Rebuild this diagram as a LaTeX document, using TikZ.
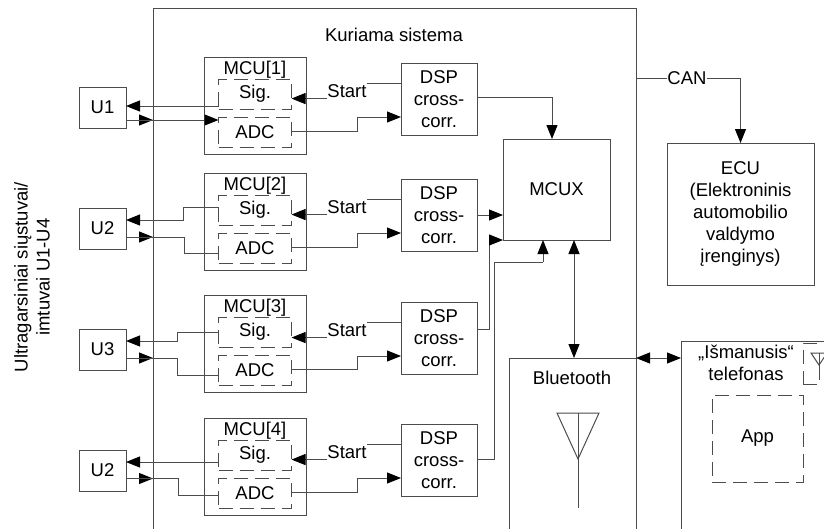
\documentclass[tikz,border=0pt]{standalone}
\usepackage{fontspec}
\setmainfont{Liberation Sans}
\usetikzlibrary{arrows.meta,positioning}

\begin{document}
\begin{tikzpicture}[
x=1pt, y=-1pt,
line width=1pt,
draw=black!70,
font=\fontsize{18.5}{22}\selectfont,
box/.style={draw=black!70, outer sep=0pt, inner sep=0pt, align=center},
dbox/.style={box, dash pattern=on 14pt off 7pt},
ubox/.style={box, minimum width=47pt, minimum height=41pt},
mcubox/.style={box, minimum width=102pt, minimum height=97pt},
inbox/.style={dbox, minimum width=73pt, minimum height=30pt},
dspbox/.style={box, minimum width=76pt, minimum height=72pt},
tag/.style={inner sep=0pt, outer sep=0pt},
starttag/.style={tag, inner ysep=1pt},
>={Triangle[length=14pt,width=11pt,color=black]}
]
\clip (0,0) rectangle (824,528);

% system frame and the outer boxes run off the page
\node[box, minimum width=483pt, minimum height=600pt, anchor=north west] (sys) at (153,8) {};
\node[tag] (systitle) at (394,35) {Kuriama sistema};

% MCU column
\node[mcubox, anchor=north west] (mcu1) at (204,57) {};
\node[mcubox, below=19pt of mcu1] (mcu2) {};
\node[mcubox, below=25pt of mcu2] (mcu3) {};
\node[mcubox, below=26pt of mcu3] (mcu4) {};
\node[tag, below=4pt of mcu1.north] (mt1) {MCU[1]};
\node[tag, below=4pt of mcu2.north] (mt2) {MCU[2]};
\node[tag, below=4pt of mcu3.north] (mt3) {MCU[3]};
\node[tag, below=4pt of mcu4.north] (mt4) {MCU[4]};

\node[inbox, below=22pt of mcu1.north] (sig1) {Sig.};
\node[inbox, below=22pt of mcu2.north] (sig2) {Sig.};
\node[inbox, below=22pt of mcu3.north] (sig3) {Sig.};
\node[inbox, below=22pt of mcu4.north] (sig4) {Sig.};
\node[inbox, below=8pt of sig1] (adc1) {ADC};
\node[inbox, below=8pt of sig2] (adc2) {ADC};
\node[inbox, below=8pt of sig3] (adc3) {ADC};
\node[inbox, below=8pt of sig4] (adc4) {ADC};

% transducers
\node[ubox, anchor=north west] (u1) at (79,87) {U1};
\node[ubox, below=80pt of u1] (u2) {U2};
\node[ubox, below=80pt of u2] (u3) {U3};
\node[ubox, below=80pt of u3] (u4) {U2};
\node[tag, rotate=90, align=center] (ulabel) at (32,277) {Ultragarsiniai siųstuvai/\\imtuvai U1-U4};

% DSP column
\node[dspbox, anchor=north west] (dsp1) at (401,63) {DSP\\cross-\\corr.};
\node[dspbox, below=44pt of dsp1] (dsp2) {DSP\\cross-\\corr.};
\node[dspbox, below=51pt of dsp2] (dsp3) {DSP\\cross-\\corr.};
\node[dspbox, below=50pt of dsp3] (dsp4) {DSP\\cross-\\corr.};
\node[starttag] (start1) at (347,91) {Start};
\node[starttag] (start2) at (347,207) {Start};
\node[starttag] (start3) at (347,330) {Start};
\node[starttag] (start4) at (347,452) {Start};

% right hand side
\node[box, minimum width=107pt, minimum height=101pt, anchor=north west] (mcux) at (503,139) {MCUX};
\node[box, minimum width=147pt, minimum height=142pt, anchor=north west] (ecu) at (667,143) {ECU\\(Elektroninis\\automobilio\\valdymo\\įrenginys)};
\node[tag] (can) at (687,78) {CAN};
\node[box, minimum width=127pt, minimum height=220pt, anchor=north west] (bt) at (509,358) {};
\node[tag] (bttext) at (572,378) {Bluetooth};
\node[box, minimum width=200pt, minimum height=220pt, anchor=north west] (phone) at (681,341) {};
\node[tag, align=center] (phonetext) at (746,363) {„Išmanusis“\\telefonas};
\node[dbox, minimum width=91pt, minimum height=87pt, anchor=north west] (app) at (712,395) {App};
\node[dbox, minimum width=60pt, minimum height=41pt, anchor=north west] (mini) at (803,343) {};

% antennas
\coordinate (ant) at (578,413);
\draw (557,413) -- (599,413) -- (578,459) -- cycle;
\draw (ant) -- ++(0,95);
\coordinate (antb) at (819,353);
\draw (811,353) -- (827,353) -- (819,365) -- cycle;
\draw (antb) -- ++(0,27);

% U <-> MCU
\draw[->] ([yshift=-12pt]sig1.west) -- ([yshift=-12pt]sig1.west -| u1.east);
\draw[->] ([yshift=-12.5pt]u1.east) -- ++(27pt,0);
\draw[->] ([yshift=-12.5pt]u1.east) -- ([yshift=-12.5pt]u1.east -| adc1.west);

\draw[->] ([yshift=3pt]sig2.west) -- ++(-35pt,0) |- ([yshift=8.5pt]u2.east);
\draw[->] ([yshift=-8.5pt]u2.east) -- ++(27pt,0);
\draw ([yshift=-8.5pt]u2.east) -- ++(58pt,0) |- ([yshift=-5pt]adc2.west);

\draw[->] (sig3.west) -- ++(-41pt,0) |- ([yshift=8.5pt]u3.east);
\draw[->] ([yshift=-8.5pt]u3.east) -- ++(27pt,0);
\draw ([yshift=-8.5pt]u3.east) -- ++(51pt,0) |- ([yshift=-5pt]adc3.west);

\draw[->] ([yshift=-7pt]sig4.west) -- ([yshift=-7pt]sig4.west -| u4.east);
\draw[->] ([yshift=-8pt]u4.east) -- ++(27pt,0);
\draw ([yshift=-8pt]u4.east) -- ++(52pt,0) |- ([yshift=-2pt]adc4.west);

% Start and ADC lines
\draw (dsp1.west |- start1.north east) -- (start1.north east);
\draw (dsp2.west |- start2.north east) -- (start2.north east);
\draw (dsp3.west |- start3.north east) -- (start3.north east);
\draw (dsp4.west |- start4.north east) -- (start4.north east);
\draw[->] (start1.south west) -- (start1.south west -| sig1.east);
\draw[->] (start2.south west) -- (start2.south west -| sig2.east);
\draw[->] (start3.south west) -- (start3.south west -| sig3.east);
\draw[->] (start4.south west) -- (start4.south west -| sig4.east);
\draw[->] ([yshift=1pt]adc1.east) -- ++(66pt,0) |- ([yshift=-18pt]dsp1.west);
\draw[->] ([yshift=1pt]adc2.east) -- ++(66pt,0) |- ([yshift=-18pt]dsp2.west);
\draw[->] ([yshift=1pt]adc3.east) -- ++(66pt,0) |- ([yshift=-18pt]dsp3.west);
\draw[->] ([yshift=1pt]adc4.east) -- ++(66pt,0) |- ([yshift=-18pt]dsp4.west);

% DSP to MCUX
\draw[->] ([yshift=2pt]dsp1.east) -| ([xshift=-4.5pt]mcux.north);
\draw[->] (dsp2.east) -- (dsp2.east -| mcux.west);
\draw[->] ([yshift=8.5pt]dsp3.east) -- ++(12pt,0) |- (mcux.south west);
\coordinate (dspjog) at (543,262);
\draw ([yshift=1pt]dsp4.east) -- ++(17pt,0) |- (dspjog);
\draw[->] (dspjog) -- (dspjog |- mcux.south);

% links
\coordinate (btlink) at (574,300);
\draw[<->] (btlink |- bt.north) -- (btlink |- mcux.south);
\draw[<->] (sys.east |- bt.north) -- (phone.west |- bt.north);
\draw (sys.east |- can) -- (can.west);
\draw[->] (can.east) -| (ecu.north);
\end{tikzpicture}
\end{document}
